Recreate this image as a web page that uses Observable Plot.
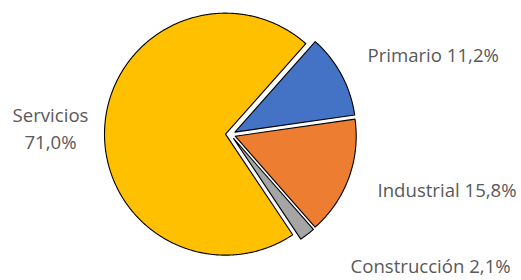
<!DOCTYPE html>
<html><head><meta charset="utf-8">
<script src="https://cdn.jsdelivr.net/npm/d3@7"></script>
<script src="https://cdn.jsdelivr.net/npm/@observablehq/plot@0.6"></script>
<style>body{margin:0;background:#fff}</style>
</head><body><div id="chart"></div>
<script>
// Data
const sectors = ["Primario", "Industrial", "Construcción", "Servicios"];
const shares = [11.2, 15.8, 2.1, 71.0];
const colors = ["#4472C4", "#ED7D31", "#A5A5A5", "#FFC000"];

// Layout
const W = 521, H = 280, cx = 230, cy = 134, R = 121, explode = 5, startDeg = 41.6;
const labelLayout = {
  "Primario": {x: 367, y: 56, anchor: "start", sep: " "},
  "Industrial": {x: 377, y: 191, anchor: "start", sep: " "},
  "Construcción": {x: 350, y: 267, anchor: "start", sep: " "},
  "Servicios": {x: 50, y: 126, anchor: "middle", sep: "\n"}
};

const locale = d3.formatLocale({decimal: ",", thousands: ".", grouping: [3], currency: ["", "€"]});
const fmt = locale.format(".1f");

const a0 = startDeg * Math.PI / 180;
const pie = d3.pie().sort(null).value(d => d.value).startAngle(a0).endAngle(a0 + 2 * Math.PI);
const arcs = pie(sectors.map((name, i) => ({name, value: shares[i]})));

const pts = [];
for (const a of arcs) {
  const mid = (a.startAngle + a.endAngle) / 2;
  const ox = cx + explode * Math.sin(mid), oy = cy - explode * Math.cos(mid);
  const name = a.data.name;
  pts.push({name, x: ox, y: oy});
  const n = Math.max(2, Math.ceil((a.endAngle - a.startAngle) / (Math.PI / 360)));
  for (let k = 0; k <= n; k++) {
    const t = a.startAngle + (a.endAngle - a.startAngle) * k / n;
    pts.push({name, x: ox + R * Math.sin(t), y: oy - R * Math.cos(t)});
  }
}

const labels = sectors.map((name, i) => ({
  name,
  text: name + labelLayout[name].sep + fmt(shares[i]) + "%",
  ...labelLayout[name]
}));

const chart = Plot.plot({
  width: W, height: H, margin: 0,
  style: {background: "#fff"},
  x: {domain: [0, W], range: [0, W], axis: null},
  y: {domain: [0, H], range: [0, H], axis: null},
  color: {domain: sectors, range: colors},
  marks: [
    Plot.line(pts, {x: "x", y: "y", z: "name", fill: "name", stroke: "#000", strokeWidth: 1.1, curve: "linear-closed"}),
    Plot.text(labels.filter(d => d.anchor === "start"), {x: "x", y: "y", text: "text", textAnchor: "start", fill: "#595959", fontSize: 18.6, fontFamily: "Open Sans"}),
    Plot.text(labels.filter(d => d.anchor === "middle"), {x: "x", y: "y", text: "text", textAnchor: "middle", lineHeight: 1.45, fill: "#595959", fontSize: 18.6, fontFamily: "Open Sans"})
  ]
});
document.getElementById("chart").append(chart);
</script>
</body></html>
